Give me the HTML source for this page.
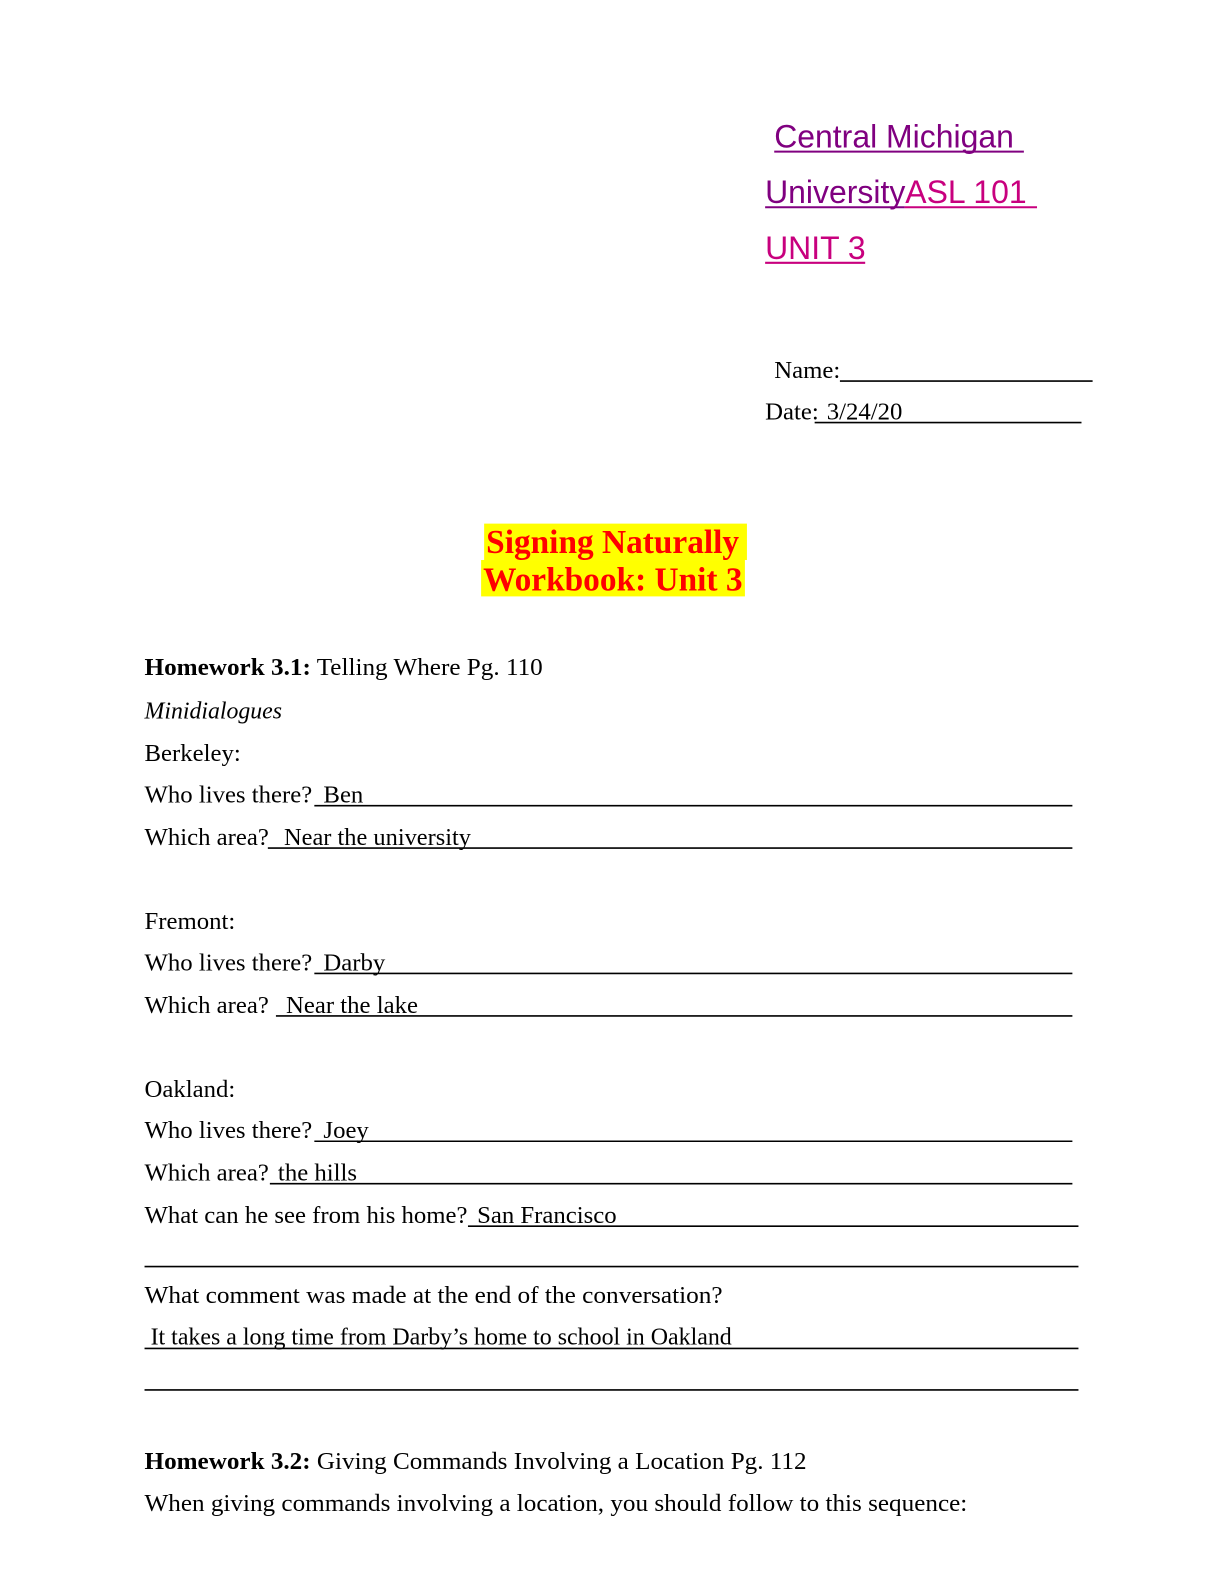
<!DOCTYPE html>
<html>
<head>
<meta charset="utf-8">
<style>
  html, body { margin:0; padding:0; background:#ffffff; }
  body { width:1224px; height:1584px; overflow:hidden; }
  svg { display:block; }
  .b { font-family:"Liberation Serif","Times New Roman",serif; font-size:24.5px; fill:#000; }
  .h { font-family:"Liberation Sans",Arial,sans-serif; font-size:31.6px; }
  .t { font-family:"Liberation Serif","Times New Roman",serif; font-size:33px; font-weight:bold; fill:#ff0000; }
  line { stroke:#000; stroke-width:1.6; }
</style>
</head>
<body>
<svg width="1224" height="1584" viewBox="0 0 1211 1567" preserveAspectRatio="none" xmlns="http://www.w3.org/2000/svg">
  <rect x="0" y="0" width="1211" height="1567" fill="#ffffff"/>

  <!-- Header -->
  <text class="h" x="766" y="146" fill="#800080">Central Michigan</text>
  <line x1="766" y1="150" x2="1013" y2="150" style="stroke:#800080;stroke-width:2"/>
  <text class="h" x="757" y="201"><tspan fill="#800080">University</tspan><tspan fill="#c8007e">ASL 101</tspan></text>
  <line x1="757" y1="205" x2="895" y2="205" style="stroke:#800080;stroke-width:2"/>
  <line x1="895" y1="205" x2="1026" y2="205" style="stroke:#c8007e;stroke-width:2"/>
  <text class="h" x="757" y="256" fill="#c8007e">UNIT 3</text>
  <line x1="757" y1="260" x2="856" y2="260" style="stroke:#c8007e;stroke-width:2"/>

  <!-- Name / Date -->
  <text class="b" x="766" y="374">Name:</text>
  <line x1="831" y1="377" x2="1081" y2="377"/>
  <text class="b" x="757" y="415">Date:</text>
  <text class="b" x="818" y="415">3/24/20</text>
  <line x1="806" y1="418" x2="1070" y2="418"/>

  <!-- Title -->
  <rect x="479" y="518" width="260" height="36" fill="#ffff00"/>
  <rect x="476" y="554" width="261" height="36" fill="#ffff00"/>
  <text class="t" x="481" y="547">Signing Naturally</text>
  <text class="t" x="478" y="584">Workbook: Unit 3</text>

  <!-- Homework 3.1 -->
  <text class="b" x="143" y="668" textLength="394" lengthAdjust="spacingAndGlyphs"><tspan font-weight="bold">Homework 3.1:</tspan> Telling Where Pg. 110</text>
  <text class="b" x="143" y="711" font-style="italic" textLength="136" lengthAdjust="spacingAndGlyphs">Minidialogues</text>
  <text class="b" x="143" y="753">Berkeley:</text>

  <text class="b" x="143" y="794">Who lives there?</text>
  <text class="b" x="320" y="794">Ben</text>
  <line x1="311" y1="797" x2="1061" y2="797"/>

  <text class="b" x="143" y="836">Which area?</text>
  <text class="b" x="281" y="836" textLength="185" lengthAdjust="spacingAndGlyphs">Near the university</text>
  <line x1="265" y1="839" x2="1061" y2="839"/>

  <text class="b" x="143" y="919">Fremont:</text>

  <text class="b" x="143" y="960">Who lives there?</text>
  <text class="b" x="320" y="960">Darby</text>
  <line x1="311" y1="963" x2="1061" y2="963"/>

  <text class="b" x="143" y="1002">Which area?</text>
  <text class="b" x="283" y="1002">Near the lake</text>
  <line x1="273" y1="1005" x2="1061" y2="1005"/>

  <text class="b" x="143" y="1085">Oakland:</text>

  <text class="b" x="143" y="1126">Who lives there?</text>
  <text class="b" x="320" y="1126">Joey</text>
  <line x1="311" y1="1129" x2="1061" y2="1129"/>

  <text class="b" x="143" y="1168">Which area?</text>
  <text class="b" x="275" y="1168">the hills</text>
  <line x1="267" y1="1171" x2="1061" y2="1171"/>

  <text class="b" x="143" y="1210">What can he see from his home?</text>
  <text class="b" x="472" y="1210">San Francisco</text>
  <line x1="463" y1="1213" x2="1067" y2="1213"/>

  <line x1="143" y1="1253" x2="1067" y2="1253"/>

  <text class="b" x="143" y="1289" textLength="572" lengthAdjust="spacingAndGlyphs">What comment was made at the end of the conversation?</text>

  <text class="b" x="149" y="1330" textLength="575" lengthAdjust="spacingAndGlyphs">It takes a long time from Darby’s home to school in Oakland</text>
  <line x1="143" y1="1334" x2="1067" y2="1334"/>

  <line x1="143" y1="1375" x2="1067" y2="1375"/>

  <!-- Homework 3.2 -->
  <text class="b" x="143" y="1453" textLength="655" lengthAdjust="spacingAndGlyphs"><tspan font-weight="bold">Homework 3.2:</tspan> Giving Commands Involving a Location Pg. 112</text>
  <text class="b" x="143" y="1495" textLength="814" lengthAdjust="spacingAndGlyphs">When giving commands involving a location, you should follow to this sequence:</text>
</svg>
</body>
</html>
